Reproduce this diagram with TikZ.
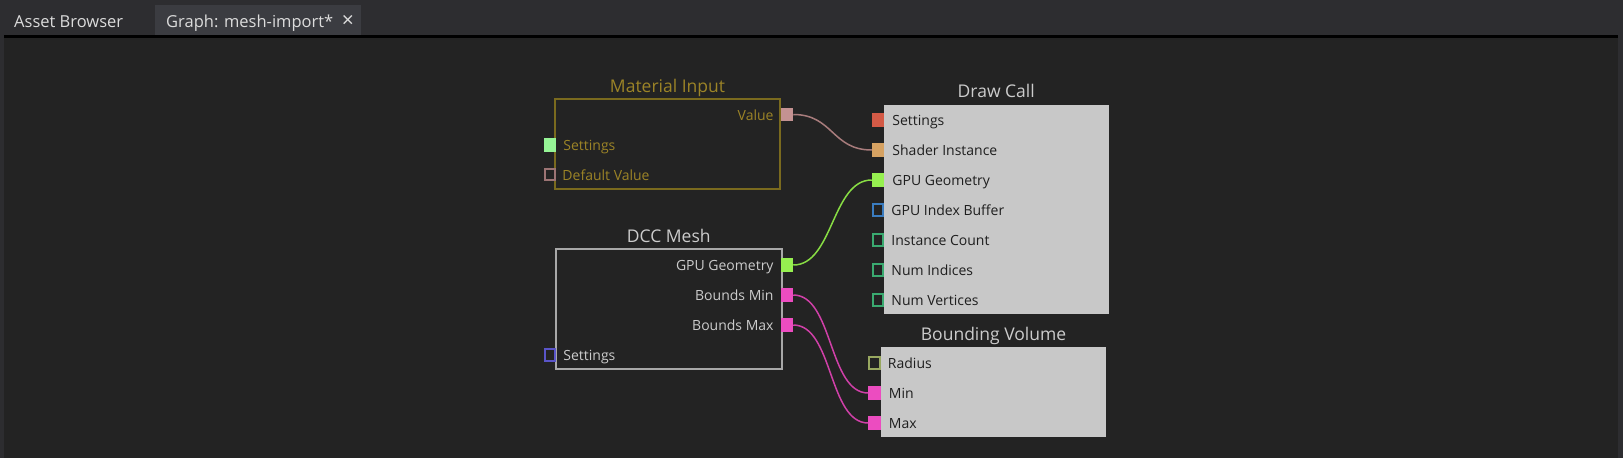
\documentclass[tikz,border=0pt]{standalone}
\usepackage{fontspec}
\setmainfont{Open Sans}
\usetikzlibrary{positioning}

\definecolor{tabbar}{HTML}{2D2D30}
\definecolor{tabactive}{HTML}{3B3C41}
\definecolor{canvas}{HTML}{232323}
\definecolor{tabtext}{HTML}{DCDCDC}
\definecolor{matgold}{HTML}{9C8427}
\definecolor{matborder}{HTML}{7A6A1E}
\definecolor{meshgray}{HTML}{A8A8A8}
\definecolor{meshtext}{HTML}{CCCCCC}
\definecolor{panel}{HTML}{C8C8C8}
\definecolor{paneltext}{HTML}{1E1E1E}
\definecolor{pvalue}{HTML}{C49292}
\definecolor{cvalue}{HTML}{A87C7C}
\definecolor{plight}{HTML}{96F596}
\definecolor{pdefault}{HTML}{9C7474}
\definecolor{pgeom}{HTML}{96F050}
\definecolor{cgeom}{HTML}{88DD44}
\definecolor{pbounds}{HTML}{EC4CC0}
\definecolor{cbounds}{HTML}{D040A8}
\definecolor{pmeshset}{HTML}{5A55C8}
\definecolor{pred}{HTML}{D45A46}
\definecolor{pshader}{HTML}{D6A262}
\definecolor{pindex}{HTML}{3A7CC0}
\definecolor{pcount}{HTML}{3AAA70}
\definecolor{pradius}{HTML}{98A860}

\begin{document}
\begin{tikzpicture}[x=1pt, y=-1pt,
  tablabel/.style={text=tabtext, inner sep=0pt, font=\fontsize{16.5}{18}\selectfont},
  boxtitle/.style={inner sep=0pt, anchor=base, font=\fontsize{17.5}{19}\selectfont},
  lbl/.style={inner sep=0pt, font=\fontsize{14}{16}\selectfont},
  nodebox/.style={rectangle, inner sep=0pt, outer sep=0pt, anchor=north west},
  portfull/.style={rectangle, inner sep=0pt, outer sep=0pt,
    minimum width=12.5pt, minimum height=13.5pt, fill=#1},
  portopen/.style={rectangle, inner sep=0pt, outer sep=0pt, line width=2pt,
    minimum width=10.5pt, minimum height=11.5pt, draw=#1},
  wire/.style={line width=1.5pt, draw=#1}
]
% window
\fill[tabbar] (0,0) rectangle (1623,458);
\fill[canvas] (4,38) rectangle (1618,458);
\fill[black] (4,35) rectangle (1618,38);
\fill[tabactive] (155,5) rectangle (361,35);
\useasboundingbox (0,0) rectangle (1623,458);

\node[tablabel, anchor=base west] (tabassets) at (14,27) {Asset Browser};
\node[tablabel, anchor=base west] (tabgraph) at (166,27) {Graph: mesh-import*};
\node[tablabel, anchor=base, font=\fontsize{21}{23}\selectfont] (tabclose) at (348,27) {×};

% Material Input
\node[nodebox, draw=matborder, line width=2pt, minimum width=225pt, minimum height=90pt] (matin) at (555,99) {};
\node[boxtitle, text=matgold] (matin-t) at ([yshift=7pt]matin.north) {Material Input};
\node[portfull=pvalue] (matvalue) at (787,114.5) {};
\node[portfull=plight] (matsettings) at (550,145) {};
\node[portopen=pdefault] (matdefault) at (550,174.5) {};
\node[lbl, text=matgold, anchor=base east] (matvalue-l) at ([xshift=-7pt, yshift=-5.5pt]matvalue.west) {Value};
\node[lbl, text=matgold, anchor=base west] (matsettings-l) at ([xshift=7pt, yshift=-5.5pt]matsettings.east) {Settings};
\node[lbl, text=matgold, anchor=base west] (matdefault-l) at ([xshift=7pt, yshift=-5.5pt]matdefault.east) {Default Value};

% Draw Call
\node[nodebox, fill=panel, minimum width=224.5pt, minimum height=209pt] (drawcall) at (884,105) {};
\node[boxtitle, text=meshtext] (drawcall-t) at ([yshift=7.5pt]drawcall.north) {Draw Call};
\node[portfull=pred] (dcsettings) at (878,120) {};
\node[portfull=pshader] (dcshader) at (878,150) {};
\node[portfull=pgeom] (dcgeom) at (878,180) {};
\node[portopen=pindex] (dcindex) at (878,210) {};
\node[portopen=pcount] (dccount) at (878,240) {};
\node[portopen=pcount] (dcindices) at (878,270) {};
\node[portopen=pcount] (dcvertices) at (878,300) {};
\node[lbl, text=paneltext, anchor=base west] (dcsettings-l) at ([xshift=8pt, yshift=-5.5pt]dcsettings.east) {Settings};
\node[lbl, text=paneltext, anchor=base west] (dcshader-l) at ([xshift=8pt, yshift=-5.5pt]dcshader.east) {Shader Instance};
\node[lbl, text=paneltext, anchor=base west] (dcgeom-l) at ([xshift=8pt, yshift=-5.5pt]dcgeom.east) {GPU Geometry};
\node[lbl, text=paneltext, anchor=base west] (dcindex-l) at ([xshift=8pt, yshift=-5.5pt]dcindex.east) {GPU Index Buffer};
\node[lbl, text=paneltext, anchor=base west] (dccount-l) at ([xshift=8pt, yshift=-5.5pt]dccount.east) {Instance Count};
\node[lbl, text=paneltext, anchor=base west] (dcindices-l) at ([xshift=8pt, yshift=-5.5pt]dcindices.east) {Num Indices};
\node[lbl, text=paneltext, anchor=base west] (dcvertices-l) at ([xshift=8pt, yshift=-5.5pt]dcvertices.east) {Num Vertices};

% DCC Mesh
\node[nodebox, draw=meshgray, line width=2pt, minimum width=225.5pt, minimum height=120pt] (dccmesh) at (556,249) {};
\node[boxtitle, text=meshtext] (dccmesh-t) at ([yshift=7pt]dccmesh.north) {DCC Mesh};
\node[portfull=pgeom] (dccgeom) at (787,265) {};
\node[portfull=pbounds] (dccmin) at (787,295) {};
\node[portfull=pbounds] (dccmax) at (787,325) {};
\node[portopen=pmeshset] (dccsettings) at (550,355) {};
\node[lbl, text=meshtext, anchor=base east] (dccgeom-l) at ([xshift=-7pt, yshift=-5.5pt]dccgeom.west) {GPU Geometry};
\node[lbl, text=meshtext, anchor=base east] (dccmin-l) at ([xshift=-7pt, yshift=-5.5pt]dccmin.west) {Bounds Min};
\node[lbl, text=meshtext, anchor=base east] (dccmax-l) at ([xshift=-7pt, yshift=-5.5pt]dccmax.west) {Bounds Max};
\node[lbl, text=meshtext, anchor=base west] (dccsettings-l) at ([xshift=8pt, yshift=-5.5pt]dccsettings.east) {Settings};

% Bounding Volume
\node[nodebox, fill=panel, minimum width=225pt, minimum height=90pt] (bvol) at (881,347) {};
\node[boxtitle, text=meshtext] (bvol-t) at ([yshift=7pt]bvol.north) {Bounding Volume};
\node[portopen=pradius] (bvradius) at (874.5,363) {};
\node[portfull=pbounds] (bvmin) at (874.5,393) {};
\node[portfull=pbounds] (bvmax) at (874.5,423) {};
\node[lbl, text=paneltext, anchor=base west] (bvradius-l) at ([xshift=8pt, yshift=-5.5pt]bvradius.east) {Radius};
\node[lbl, text=paneltext, anchor=base west] (bvmin-l) at ([xshift=8pt, yshift=-5.5pt]bvmin.east) {Min};
\node[lbl, text=paneltext, anchor=base west] (bvmax-l) at ([xshift=8pt, yshift=-5.5pt]bvmax.east) {Max};

% wires
\draw[wire=cvalue] (matvalue.east) .. controls +(40,0) and +(-40,0) .. (dcshader.west);
\draw[wire=cgeom] (dccgeom.east) .. controls +(40,0) and +(-40,0) .. (dcgeom.west);
\draw[wire=cbounds] (dccmin.east) .. controls +(40,0) and +(-40,0) .. (bvmin.west);
\draw[wire=cbounds] (dccmax.east) .. controls +(40,0) and +(-40,0) .. (bvmax.west);
\end{tikzpicture}
\end{document}
